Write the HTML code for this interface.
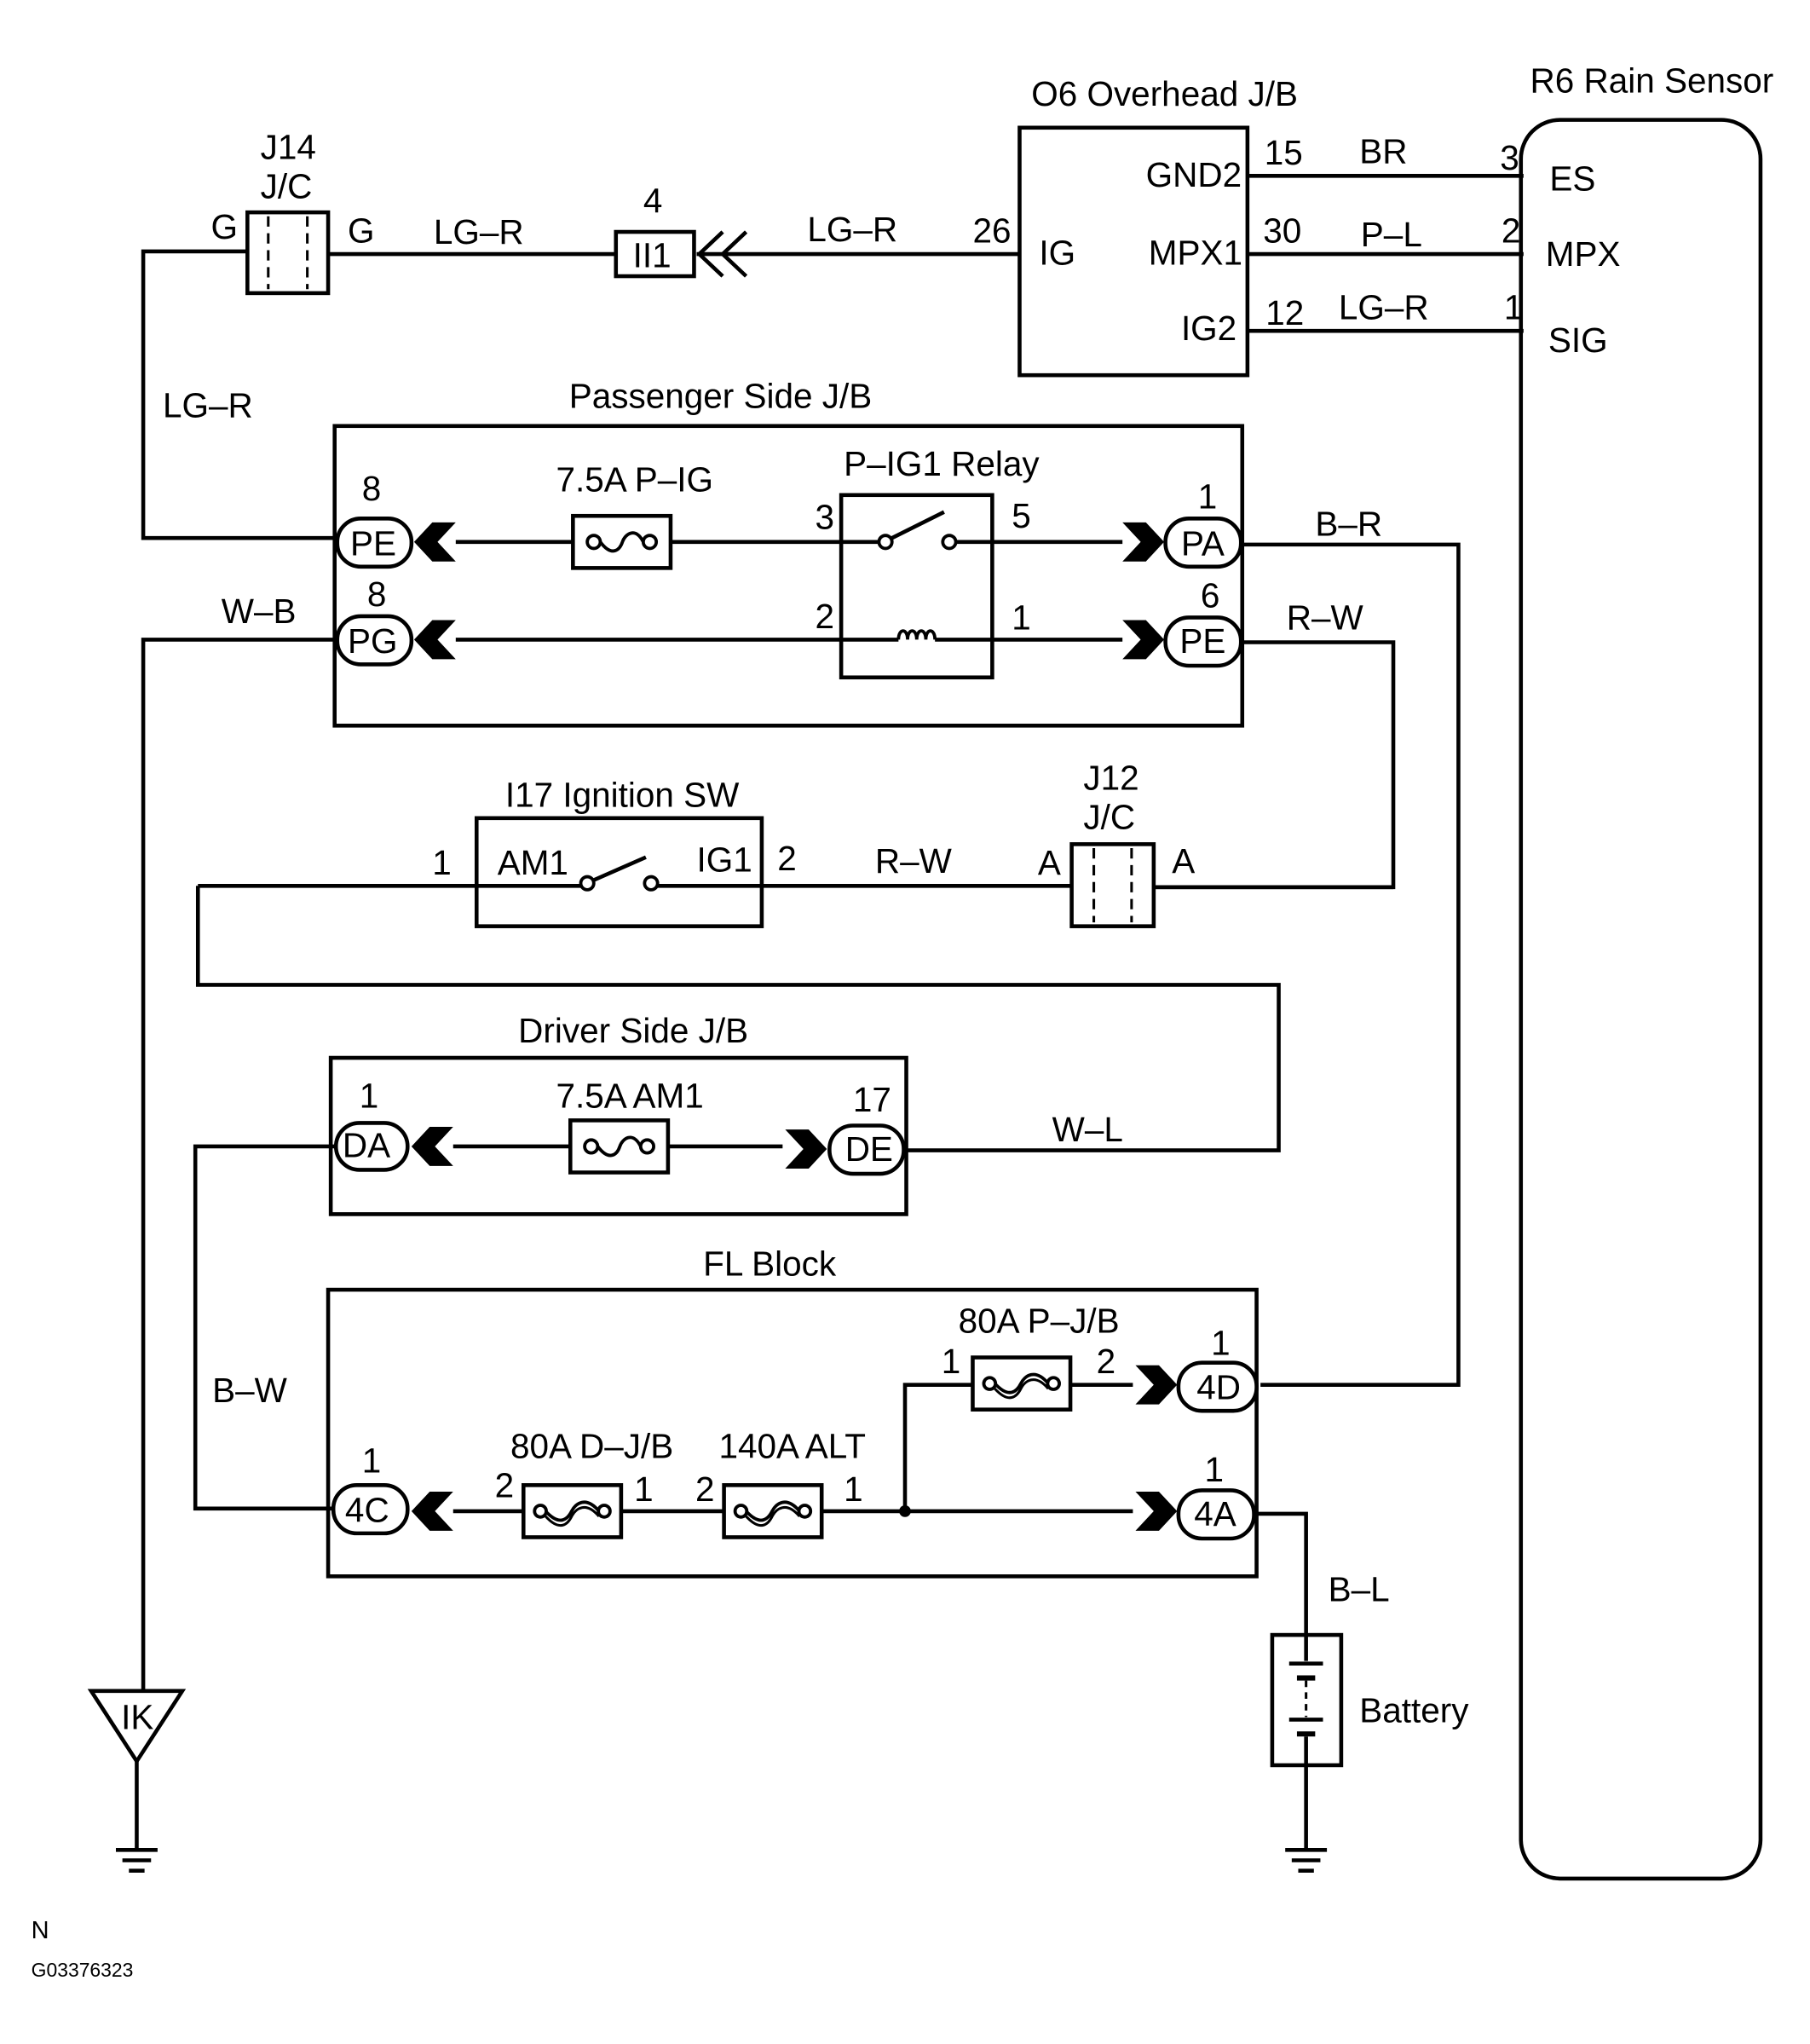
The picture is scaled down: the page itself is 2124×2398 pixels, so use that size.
<!DOCTYPE html>
<html><head><meta charset="utf-8"><style>
html,body{margin:0;padding:0;background:#fff;}
svg{display:block;}
text{font-family:"Liberation Sans",sans-serif;font-size:26.5px;fill:#000;dominant-baseline:central;}
</style></head><body>
<svg width="2124" height="2398" viewBox="0 0 1390 1569" preserveAspectRatio="none" xmlns="http://www.w3.org/2000/svg">
<defs>
<g id="fuse"><rect x="0" y="0" width="75" height="40" fill="#fff" stroke="#000" stroke-width="3"/><circle cx="16" cy="20" r="5" fill="#fff" stroke="#000" stroke-width="2.5"/><circle cx="59" cy="20" r="5" fill="#fff" stroke="#000" stroke-width="2.5"/><path d="M21 20 C30 32,36 26,38 20 S48 8,54 20" fill="none" stroke="#000" stroke-width="2.5"/></g>
<g id="bfuse"><rect x="0" y="0" width="75" height="40" fill="#fff" stroke="#000" stroke-width="3"/><circle cx="13" cy="20" r="4.5" fill="#fff" stroke="#000" stroke-width="2.5"/><circle cx="62" cy="20" r="4.5" fill="#fff" stroke="#000" stroke-width="2.5"/><path d="M17 20 C28 32,34 26,37 20 S48 8,58 20" fill="none" stroke="#000" stroke-width="2.5"/><path d="M17 24 C28 36,34 30,37 24 S48 12,58 24" fill="none" stroke="#000" stroke-width="2"/></g>
<polygon id="chevL" points="0,0 14,-15 32,-15 18,0 32,15 14,15"/>
<polygon id="chevR" points="32,0 18,-15 0,-15 14,0 0,15 18,15"/>
</defs>
<g fill="none" stroke="#000" stroke-width="3">
<rect x="1168" y="92" width="184" height="1350" rx="30"/>
<rect x="783" y="98" width="175" height="190"/>
<line x1="958" y1="135" x2="1170" y2="135"/>
<line x1="958" y1="195" x2="1170" y2="195"/>
<line x1="958" y1="254" x2="1170" y2="254"/>
<line x1="535" y1="195" x2="783" y2="195"/>
<path d="M537 195 L555 178 M537 195 L555 212 M555 195 L573 178 M555 195 L573 212"/>
<rect x="473" y="178" width="60" height="34"/>
<line x1="252" y1="195" x2="473" y2="195"/>
<rect x="190" y="163" width="62" height="62"/>
<line x1="206" y1="166" x2="206" y2="222" stroke-dasharray="8,5" stroke-width="2"/>
<line x1="236" y1="166" x2="236" y2="222" stroke-dasharray="8,5" stroke-width="2"/>
<polyline points="190,193 110,193 110,413 258,413"/>
<rect x="257" y="327" width="697" height="230"/>
<line x1="350" y1="416" x2="646" y2="416"/>
<line x1="762" y1="416" x2="862" y2="416"/>
<line x1="350" y1="491" x2="646" y2="491"/>
<line x1="762" y1="491" x2="862" y2="491"/>
<rect x="646" y="380" width="116" height="140"/>
<line x1="646" y1="416" x2="676" y2="416"/>
<line x1="734" y1="416" x2="762" y2="416"/>
<line x1="685" y1="413" x2="725" y2="393"/>
<line x1="646" y1="491" x2="690" y2="491"/>
<line x1="718" y1="491" x2="762" y2="491"/>
<path d="M690 491 C690 482,697 482,697 491 C697 482,704 482,704 491 C704 482,711 482,711 491 C711 482,718 482,718 491" stroke-width="2.5"/>
<polyline points="953,418 1120,418 1120,1063 968,1063"/>
<polyline points="953,493 1070,493 1070,681 886,681"/>
<polyline points="258,491 110,491 110,1298"/>
<rect x="366" y="628" width="219" height="83"/>
<line x1="152" y1="680" x2="447" y2="680"/>
<line x1="505" y1="680" x2="823" y2="680"/>
<line x1="455" y1="676" x2="496" y2="658"/>
<rect x="823" y="648" width="63" height="63"/>
<line x1="840" y1="651" x2="840" y2="708" stroke-dasharray="8,5" stroke-width="2"/>
<line x1="869" y1="651" x2="869" y2="708" stroke-dasharray="8,5" stroke-width="2"/>
<line x1="886" y1="681" x2="1070" y2="681"/>
<polyline points="152,680 152,756 982,756 982,883 696,883"/>
<rect x="254" y="812" width="442" height="120"/>
<line x1="348" y1="880" x2="601" y2="880"/>
<polyline points="258,880 150,880 150,1158 256,1158"/>
<rect x="252" y="990" width="713" height="220"/>
<line x1="348" y1="1160" x2="870" y2="1160"/>
<polyline points="695,1160 695,1063 870,1063"/>
<polyline points="963,1162 1003,1162 1003,1255"/>
<rect x="977" y="1255" width="53" height="100"/>
<line x1="1003" y1="1255" x2="1003" y2="1275"/>
<line x1="990" y1="1277" x2="1016" y2="1277"/>
<line x1="996" y1="1288" x2="1010" y2="1288" stroke-width="4"/>
<line x1="1003" y1="1290" x2="1003" y2="1318" stroke-dasharray="5,4" stroke-width="2"/>
<line x1="990" y1="1320" x2="1016" y2="1320"/>
<line x1="996" y1="1331" x2="1010" y2="1331" stroke-width="4"/>
<line x1="1003" y1="1333" x2="1003" y2="1420"/>
<line x1="987" y1="1420" x2="1019" y2="1420"/>
<line x1="992" y1="1428" x2="1014" y2="1428"/>
<line x1="997" y1="1436" x2="1009" y2="1436"/>
<polygon points="70,1298 140,1298 105,1352"/>
<line x1="105" y1="1352" x2="105" y2="1420"/>
<line x1="89" y1="1420" x2="121" y2="1420"/>
<line x1="94" y1="1428" x2="116" y2="1428"/>
<line x1="99" y1="1436" x2="111" y2="1436"/>
<rect x="259" y="398" width="57" height="37" rx="18" fill="#fff"/>
<rect x="259" y="473" width="57" height="37" rx="18" fill="#fff"/>
<rect x="895" y="398" width="58" height="37" rx="18" fill="#fff"/>
<rect x="895" y="474" width="58" height="37" rx="18" fill="#fff"/>
<rect x="258" y="862" width="55" height="36" rx="18" fill="#fff"/>
<rect x="637" y="864" width="57" height="37" rx="18" fill="#fff"/>
<rect x="256" y="1140" width="57" height="37" rx="18" fill="#fff"/>
<rect x="905" y="1144" width="58" height="37" rx="18" fill="#fff"/>
<rect x="905" y="1046" width="60" height="37" rx="18" fill="#fff"/>
</g>
<circle cx="680" cy="416" r="5" fill="#fff" stroke="#000" stroke-width="2.5"/>
<circle cx="729" cy="416" r="5" fill="#fff" stroke="#000" stroke-width="2.5"/>
<circle cx="451" cy="678" r="5" fill="#fff" stroke="#000" stroke-width="2.5"/>
<circle cx="500" cy="678" r="5" fill="#fff" stroke="#000" stroke-width="2.5"/>
<circle cx="695" cy="1160" r="4.5" fill="#000"/>
<use href="#fuse" x="440" y="396"/>
<use href="#fuse" x="438" y="860"/>
<use href="#bfuse" x="402" y="1140"/>
<use href="#bfuse" x="556" y="1140"/>
<use href="#bfuse" x="747" y="1042"/>
<use href="#chevL" x="318" y="416"/>
<use href="#chevL" x="318" y="491"/>
<use href="#chevL" x="316" y="880"/>
<use href="#chevL" x="316" y="1160"/>
<use href="#chevR" x="862" y="416"/>
<use href="#chevR" x="862" y="491"/>
<use href="#chevR" x="603" y="882"/>
<use href="#chevR" x="872" y="1160"/>
<use href="#chevR" x="872" y="1063"/>
<text x="1175" y="62">R6 Rain Sensor</text>
<text x="792" y="72">O6 Overhead J/B</text>
<text x="1190" y="137">ES</text>
<text x="1187" y="195">MPX</text>
<text x="1189" y="261">SIG</text>
<text x="880" y="134">GND2</text>
<text x="798" y="194">IG</text>
<text x="882" y="194">MPX1</text>
<text x="907" y="252">IG2</text>
<text x="971" y="117">15</text>
<text x="1044" y="116">BR</text>
<text x="1152" y="121">3</text>
<text x="970" y="177">30</text>
<text x="1045" y="180">P–L</text>
<text x="1153" y="177">2</text>
<text x="972" y="240">12</text>
<text x="1028" y="236">LG–R</text>
<text x="1155" y="236">1</text>
<text x="747" y="177">26</text>
<text x="620" y="176">LG–R</text>
<text x="486" y="196">II1</text>
<text x="494" y="154">4</text>
<text x="333" y="178">LG–R</text>
<text x="200" y="113">J14</text>
<text x="200" y="143">J/C</text>
<text x="162" y="174">G</text>
<text x="267" y="177">G</text>
<text x="125" y="311">LG–R</text>
<text x="437" y="304">Passenger Side J/B</text>
<text x="648" y="356">P–IG1 Relay</text>
<text x="427" y="368">7.5A P–IG</text>
<text x="278" y="375">8</text>
<text x="269" y="417">PE</text>
<text x="282" y="456">8</text>
<text x="267" y="492">PG</text>
<text x="626" y="397">3</text>
<text x="777" y="396">5</text>
<text x="626" y="473">2</text>
<text x="777" y="474">1</text>
<text x="920" y="381">1</text>
<text x="907" y="417">PA</text>
<text x="922" y="457">6</text>
<text x="906" y="492">PE</text>
<text x="1010" y="402">B–R</text>
<text x="988" y="474">R–W</text>
<text x="170" y="469">W–B</text>
<text x="388" y="610">I17 Ignition SW</text>
<text x="382" y="662">AM1</text>
<text x="535" y="660">IG1</text>
<text x="332" y="662">1</text>
<text x="597" y="659">2</text>
<text x="672" y="661">R–W</text>
<text x="832" y="597">J12</text>
<text x="832" y="627">J/C</text>
<text x="797" y="662">A</text>
<text x="900" y="661">A</text>
<text x="398" y="791">Driver Side J/B</text>
<text x="427" y="841">7.5A AM1</text>
<text x="276" y="841">1</text>
<text x="263" y="879">DA</text>
<text x="655" y="844">17</text>
<text x="649" y="882">DE</text>
<text x="808" y="867">W–L</text>
<text x="163" y="1067">B–W</text>
<text x="540" y="970">FL Block</text>
<text x="736" y="1014">80A P–J/B</text>
<text x="723" y="1045">1</text>
<text x="842" y="1045">2</text>
<text x="930" y="1031">1</text>
<text x="919" y="1065">4D</text>
<text x="392" y="1110">80A D–J/B</text>
<text x="552" y="1110">140A ALT</text>
<text x="380" y="1140">2</text>
<text x="487" y="1143">1</text>
<text x="534" y="1143">2</text>
<text x="648" y="1143">1</text>
<text x="278" y="1121">1</text>
<text x="265" y="1159">4C</text>
<text x="925" y="1128">1</text>
<text x="917" y="1162">4A</text>
<text x="1020" y="1220">B–L</text>
<text x="1044" y="1313">Battery</text>
<text x="93" y="1318">IK</text>
<text x="24" y="1482" style="font-size:19px">N</text>
<text x="24" y="1512" style="font-size:15px">G03376323</text>
</svg>
</body></html>
